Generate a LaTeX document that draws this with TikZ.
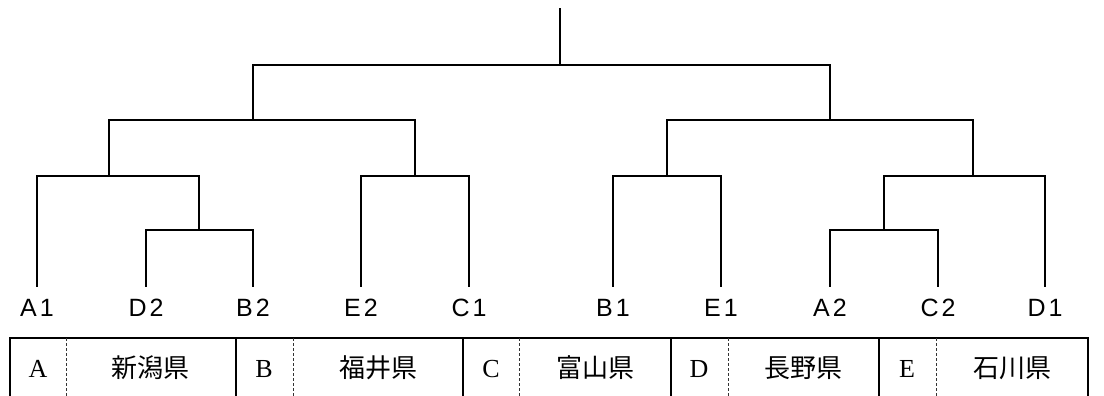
\documentclass[tikz,border=0pt]{standalone}
\usepackage{fontspec}
\usepackage{tikz}
\newfontfamily\jpfont{Noto Sans CJK JP}
\newfontfamily\keyfont{Liberation Serif}
\newfontfamily\lblfont[LetterSpace=12]{Liberation Sans}

\tikzset{
  tree/.style={line width=1.1pt},
  leaf/.style={font=\lblfont\fontsize{12.5}{14}\selectfont, inner xsep=0pt, inner ysep=5.5pt, text height=9pt, text depth=0pt},
  cellkey/.style={font=\keyfont\fontsize{13}{15}\selectfont, inner sep=0pt},
  cellname/.style={font=\jpfont\fontsize{13}{15}\selectfont, inner sep=0pt},
  sep/.style={line width=0.4pt, dash pattern=on 1.5pt off 1pt, black!80}
}

\begin{document}
\begin{tikzpicture}[x=0.5pt,y=-0.5pt]
\useasboundingbox (0,0) rectangle (1104,396);
% leaves
\node [leaf] (A1) at (37,307) {A1};
\node [leaf] (D2) at (146,307) {D2};
\node [leaf] (B2) at (253,307) {B2};
\node [leaf] (E2) at (361,307) {E2};
\node [leaf] (C1) at (469,307) {C1};
\node [leaf] (B1) at (613,307) {B1};
\node [leaf] (E1) at (721,307) {E1};
\node [leaf] (A2) at (830,307) {A2};
\node [leaf] (C2) at (938,307) {C2};
\node [leaf] (D1) at (1045,307) {D1};
% joins
\coordinate (j1) at (199,230);
\coordinate (j2) at (109,176);
\coordinate (j3) at (415,176);
\coordinate (j4) at (253,120);
\coordinate (j5) at (667,176);
\coordinate (j6) at (884,230);
\coordinate (j7) at (973,176);
\coordinate (j8) at (830,120);
\coordinate (root) at (560,65);
\coordinate (top) at (560,8);
\draw [tree] (D2) |- (j1) -| (B2);
\draw [tree] (A1) |- (j2) -| (j1);
\draw [tree] (E2) |- (j3) -| (C1);
\draw [tree] (j2) |- (j4) -| (j3);
\draw [tree] (B1) |- (j5) -| (E1);
\draw [tree] (A2) |- (j6) -| (C2);
\draw [tree] (j6) |- (j7) -| (D1);
\draw [tree] (j5) |- (j8) -| (j7);
\draw [tree] (j4) |- (root) -| (j8);
\draw [tree] (root) -- (top);
% table
\draw [tree] (10,396) -- (10,338) -- (1088,338) -- (1088,396);
\draw [tree] (236,338) -- (236,396);
\draw [tree] (463,338) -- (463,396);
\draw [tree] (671,338) -- (671,396);
\draw [tree] (879,338) -- (879,396);
\draw [sep] (66,338) -- (66,396);
\draw [sep] (293,338) -- (293,396);
\draw [sep] (519,338) -- (519,396);
\draw [sep] (728,338) -- (728,396);
\draw [sep] (936,338) -- (936,396);
\node [cellkey] (kA) at (38,369) {A};
\node [cellkey] (kB) at (264,369) {B};
\node [cellkey] (kC) at (491,369) {C};
\node [cellkey] (kD) at (699,369) {D};
\node [cellkey] (kE) at (907,369) {E};
\node [cellname] (nA) at (151,368) {新潟県};
\node [cellname] (nB) at (378,368) {福井県};
\node [cellname] (nC) at (595,368) {富山県};
\node [cellname] (nD) at (803,368) {長野県};
\node [cellname] (nE) at (1012,368) {石川県};
\end{tikzpicture}
\end{document}
